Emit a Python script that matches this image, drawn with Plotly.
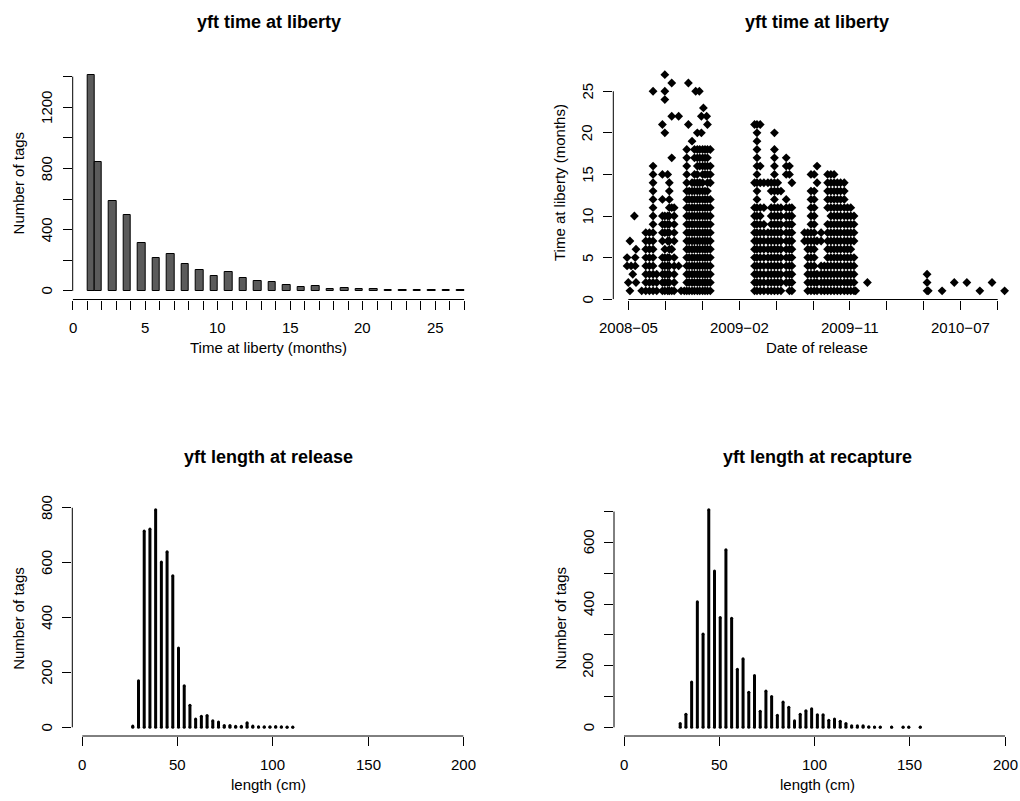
import plotly.graph_objects as go
from datetime import datetime, timedelta

# ---------------- data ----------------
# Panel 1: histogram of time at liberty (months)
liberty_bin_left = [1.0, 1.5, 2.5, 3.5, 4.5, 5.5, 6.5, 7.5, 8.5, 9.5, 10.5, 11.5, 12.5, 13.5,
                    14.5, 15.5, 16.5, 17.5, 18.5, 19.5, 20.5, 21.5, 22.5, 23.5, 24.5, 25.5, 26.5]
liberty_bin_right = [1.5, 2.0, 3.0, 4.0, 5.0, 6.0, 7.0, 8.0, 9.0, 10.0, 11.0, 12.0, 13.0, 14.0,
                     15.0, 16.0, 17.0, 18.0, 19.0, 20.0, 21.0, 22.0, 23.0, 24.0, 25.0, 26.0, 27.0]
liberty_counts = [1413, 839, 585, 493, 311, 217, 243, 178, 137, 98, 126, 85, 67, 59,
                  41, 24, 30, 13, 17, 11, 9, 8, 4, 3, 8, 4, 3]

# Panel 2: release date vs time at liberty (one entry per release date)
release_dates = [
    "2008-04-28", "2008-05-01", "2008-05-05", "2008-05-08", "2008-05-12", "2008-05-16",
    "2008-05-18", "2008-05-20",
    "2008-06-03", "2008-06-13", "2008-06-22", "2008-07-01", "2008-07-10", "2008-07-24",
    "2008-07-30", "2008-08-06", "2008-08-10", "2008-08-16", "2008-08-22", "2008-09-02",
    "2008-09-08",
    "2008-09-16", "2008-09-22", "2008-09-26", "2008-09-28", "2008-10-05", "2008-10-11",
    "2008-10-14", "2008-10-18", "2008-10-23", "2008-10-24", "2008-10-28", "2008-10-31",
    "2008-11-02", "2008-11-06", "2008-11-10", "2008-11-12", "2008-11-19",
    "2009-03-08", "2009-03-14", "2009-03-22", "2009-03-31", "2009-04-10", "2009-04-18",
    "2009-04-26", "2009-05-04", "2009-05-12", "2009-05-25", "2009-06-02", "2009-06-08",
    "2009-07-09", "2009-07-17", "2009-07-25", "2009-08-02", "2009-08-09", "2009-08-19",
    "2009-08-27", "2009-09-04", "2009-09-12", "2009-09-20", "2009-09-28", "2009-10-06",
    "2009-10-15", "2009-10-23", "2009-10-31", "2009-11-08", "2009-11-12", "2009-12-11",
    "2010-05-07", "2010-05-10", "2010-06-13", "2010-07-13", "2010-08-13", "2010-09-14",
    "2010-10-14", "2010-11-14",
]
months_at_liberty = [
    [4, 5], [2], [1, 7], [4], [3], [10], [4, 5], [2, 6],
    [1],
    [1, 2, 3, 4, 5, 6, 7, 8],
    [1, 2, 3, 4, 5, 6, 7, 8],
    [1, 2, 3, 4, 5, 6, 7, 8, 9, 10, 11, 12, 13, 14, 15, 16, 25],
    [1, 2, 3],
    [1, 2, 3, 4, 5, 7, 8, 9, 10, 12, 15, 21],
    [1, 2, 3, 4, 5, 6, 8, 9, 10, 20, 24, 25, 27],
    [1, 2, 3, 4, 5, 7, 8, 9, 10, 15],
    [1, 2, 3, 4, 5, 6, 7, 8, 9, 10, 11, 12, 13, 14],
    [1, 6, 11, 17, 22, 26],
    [1, 2, 3, 4, 5, 7, 8, 9, 10, 11],
    [4, 22],
    [1],
    [1],
    [1, 2, 3, 4, 5, 6, 7, 8, 9, 10, 11, 12, 13, 14, 15, 16, 17, 18],
    [21, 26],
    [1, 2, 3, 4, 5, 6, 7, 8, 9, 10, 11, 12, 13],
    [1, 2, 3, 4, 5, 6, 7, 8, 9, 10, 11, 12, 13, 14, 19],
    [1, 2, 3, 4, 5, 6, 7, 8, 9, 10, 11, 12, 13, 14, 15, 17, 18],
    [25],
    [1, 2, 3, 4, 5, 6, 7, 8, 9, 10, 11, 12, 13, 14, 15, 16, 17, 18, 20],
    [25],
    [1, 2, 3, 4, 5, 6, 7, 8, 9, 10, 11, 12, 13, 14, 16, 17, 18],
    [20, 22],
    [1, 2, 3, 4, 5, 6, 7, 8, 9, 10, 11, 12, 13, 14, 15, 16, 17, 18],
    [23],
    [1, 2, 3, 4, 5, 6, 7, 8, 9, 10, 11, 12, 13, 15, 16, 17, 18],
    [22],
    [1, 2, 3, 4, 5, 6, 7, 8, 9, 10, 11, 12, 13, 14, 15, 16, 17, 18, 21],
    [1, 2, 3, 4, 5, 6, 7, 8, 9, 10, 11, 12, 14, 15, 16, 18],
    [1, 2, 3, 4, 5, 6, 7, 8, 9, 10, 11, 14, 21],
    [1, 2, 3, 4, 5, 6, 7, 8, 9, 10, 11, 12, 13, 14, 15, 16, 17, 18, 19, 20, 21],
    [1, 2, 3, 4, 5, 6, 7, 8, 9, 10, 11, 14, 16, 21],
    [1, 2, 3, 4, 5, 6, 7, 8, 9, 11, 14],
    [1, 2, 3, 4, 5, 6, 7, 8, 14],
    [1, 2, 3, 4, 5, 6, 7, 8, 9, 10, 11, 13, 14],
    [1, 2, 3, 4, 5, 6, 7, 8, 9, 10, 11, 12, 13, 14, 15, 16, 17, 18, 20],
    [1, 2, 3, 4, 5, 6, 7, 8, 9, 10, 11, 13, 14],
    [1, 2, 3, 4, 5, 6, 7, 8, 9, 10, 11, 13],
    [2, 3, 4, 5, 6, 7, 8, 9, 10, 11, 12, 15, 16, 17],
    [1, 2, 3, 4, 5, 6, 7, 8, 9, 10, 11, 15, 16],
    [1, 2, 3, 4, 5, 6, 7, 8, 9, 10, 11, 14],
    [7, 8],
    [1, 2, 3, 4, 5, 6, 7, 8],
    [1, 2, 3, 4, 5, 6, 7, 8, 9, 10, 11, 12, 13, 15],
    [1, 2, 3, 4, 5, 6, 7, 8, 9, 10, 11, 12, 13, 15],
    [1, 2, 3, 7, 14, 16],
    [1, 2, 3, 4, 7, 8],
    [1, 2, 3, 4],
    [1, 2, 3, 4, 5, 6, 7, 8, 9, 11, 12, 13, 14, 15],
    [1, 2, 3, 4, 5, 6, 7, 8, 9, 10, 11, 12, 13, 14, 15],
    [1, 2, 3, 4, 5, 6, 7, 8, 9, 10, 11, 12, 13, 14, 15],
    [1, 2, 3, 4, 5, 6, 7, 8, 9, 10, 11, 12, 13, 14],
    [1, 2, 3, 4, 5, 6, 7, 8, 9, 10, 11, 12, 13, 14],
    [1, 2, 3, 4, 5, 6, 7, 8, 9, 10, 11, 12, 13, 14],
    [1, 2, 3, 4, 5, 6, 7, 8, 9, 10, 11],
    [1, 2, 3, 4, 5, 6, 7, 8, 9, 10, 11],
    [1, 2, 3, 4, 5, 7, 8, 9, 10],
    [1],
    [2],
    [1, 2, 3], [1], [1], [2], [2], [1], [2], [1],
]
date_ticks = ["2008-05-01", "2008-07-31", "2008-10-30", "2009-01-29", "2009-04-30", "2009-07-30",
              "2009-10-29", "2010-01-28", "2010-04-29", "2010-07-29", "2010-10-28"]
date_tick_labels = ["2008\u221205", "", "", "2009\u221202", "", "", "2009\u221211", "", "",
                    "2010\u221207", ""]

# Panel 3: length at release (cm) and number of tags
release_len_cm = [26.5, 29.5, 32.5, 35.5, 38.5, 41.5, 44.5, 47.5, 50.5, 53.5, 56.5, 59.5,
                  62.5, 65.5, 68.5, 71.5, 74.5, 77.5, 80.5, 83.5, 86.5, 89.5, 92.5, 95.5,
                  98.5, 101.5, 104.5, 107.5, 110.5]
release_len_counts = [5, 170, 715, 723, 793, 602, 640, 552, 289, 151, 80, 30,
                      40, 43, 24, 19, 7, 7, 4, 4, 17, 5, 2, 2, 2, 3, 2, 1, 1]

# Panel 4: length at recapture (cm) and number of tags
recap_len_cm = [29.5, 32.5, 35.5, 38.5, 41.5, 44.5, 47.5, 50.5, 53.5, 56.5, 59.5, 62.5,
                65.5, 68.5, 71.5, 74.5, 77.5, 80.5, 83.5, 86.5, 89.5, 92.5, 95.5, 98.5,
                101.5, 104.5, 107.5, 110.5, 113.5, 116.5, 119.5, 122.5, 125.5, 128.5,
                131.5, 134.5, 140.5, 146.5, 149.5, 155.5]
recap_len_counts = [12, 42, 147, 407, 303, 706, 507, 356, 576, 354, 188, 222,
                    114, 168, 52, 118, 100, 39, 82, 65, 21, 42, 54, 60,
                    41, 41, 23, 27, 20, 12, 5, 5, 5, 2,
                    1, 1, 1, 1, 1, 1]

# ---------------- layout helpers ----------------
W, H = 1020, 801
FONT = "Liberation Sans, Arial, Helvetica, sans-serif"
TXT = 15
TITLE = 18
TICKLEN = 9


def fx(px):
    return px / W


def fy(px):
    return 1 - px / H


# panel pixel boxes: left, right, top, bottom
TL = (72.7, 464.3, 66.0, 299.5)
TR = (613.3, 1020.0, 66.0, 299.5)
BL = (72.3, 470.0, 501.0, 736.0)
BR = (614.0, 1020.0, 501.0, 736.0)

fig = go.Figure()

# Panel 1 bars
centers = [(a + b) / 2 for a, b in zip(liberty_bin_left, liberty_bin_right)]
widths = [b - a for a, b in zip(liberty_bin_left, liberty_bin_right)]
fig.add_trace(go.Bar(x=centers, y=liberty_counts, width=widths, xaxis="x", yaxis="y",
                     marker=dict(color="#5b5b5b", line=dict(color="black", width=1)),
                     showlegend=False, hoverinfo="skip"))

# Panel 2 scatter
px_dates, py_months = [], []
for d, ms in zip(release_dates, months_at_liberty):
    for m in ms:
        px_dates.append(d)
        py_months.append(m)
fig.add_trace(go.Scatter(x=px_dates, y=py_months, mode="markers", xaxis="x2", yaxis="y2",
                         marker=dict(symbol="diamond", size=6.8, color="black",
                                     line=dict(width=0)),
                         showlegend=False, hoverinfo="skip"))


def spikes(xs, ys, xa, ya):
    lx, ly = [], []
    for x, y in zip(xs, ys):
        lx += [x, x, None]
        ly += [0, y, None]
    fig.add_trace(go.Scatter(x=lx, y=ly, mode="lines", xaxis=xa, yaxis=ya,
                             line=dict(color="black", width=3),
                             showlegend=False, hoverinfo="skip"))
    fig.add_trace(go.Scatter(x=list(xs) + list(xs), y=[0] * len(xs) + list(ys),
                             mode="markers", xaxis=xa, yaxis=ya,
                             marker=dict(symbol="circle", size=3, color="black",
                                         line=dict(width=0)),
                             showlegend=False, hoverinfo="skip"))


spikes(release_len_cm, release_len_counts, "x3", "y3")
spikes(recap_len_cm, recap_len_counts, "x4", "y4")

# ranges
base = datetime(2008, 5, 1)
px_per_day = (997.7 - 628.3) / 910.0
tr_x0 = base + timedelta(days=(TR[0] - 628.3) / px_per_day)
tr_x1 = base + timedelta(days=(TR[1] - 628.3) / px_per_day)


def yr(vals):
    lo, hi = min(0, min(vals)), max(vals)
    return [lo - 0.04 * (hi - lo), hi + 0.04 * (hi - lo)]


def yr_scatter(vals):
    lo, hi = min(vals), max(vals)
    return [lo - 0.04 * (hi - lo), hi + 0.04 * (hi - lo)]


cm_scale = 1.905
ranges = {
    "x": [0, 27],
    "y": yr(liberty_counts),
    "x2": [tr_x0.isoformat(), tr_x1.isoformat()],
    "y2": yr_scatter(py_months),
    "x3": [(BL[0] - 82.3) / cm_scale, (BL[1] - 82.3) / cm_scale],
    "y3": yr(release_len_counts),
    "x4": [(BR[0] - 624.0) / cm_scale, (BR[1] - 624.0) / cm_scale],
    "y4": yr(recap_len_counts),
}

x_ticks = {
    "x": (list(range(0, 28)), ["0" if v == 0 else (str(v) if v % 5 == 0 else "") for v in range(0, 28)]),
    "x2": (date_ticks, date_tick_labels),
    "x3": ([0, 50, 100, 150, 200], ["0", "50", "100", "150", "200"]),
    "x4": ([0, 50, 100, 150, 200], ["0", "50", "100", "150", "200"]),
}
y_ticks = {
    "y": ([0, 200, 400, 600, 800, 1000, 1200, 1400], ["0", "", "400", "", "800", "", "1200", ""]),
    "y2": ([0, 5, 10, 15, 20, 25], ["0", "5", "10", "15", "20", "25"]),
    "y3": ([0, 200, 400, 600, 800], ["0", "200", "400", "600", "800"]),
    "y4": ([0, 100, 200, 300, 400, 500, 600, 700], ["0", "", "200", "", "400", "", "600", ""]),
}

panels = [("x", "y", TL, "yft time at liberty", "Time at liberty (months)", "Number of tags"),
          ("x2", "y2", TR, "yft time at liberty", "Date of release", "Time at liberty (months)"),
          ("x3", "y3", BL, "yft length at release", "length (cm)", "Number of tags"),
          ("x4", "y4", BR, "yft length at recapture", "length (cm)", "Number of tags")]

axis_common = dict(showgrid=False, zeroline=False, showline=False, ticks="outside",
                   ticklen=TICKLEN, tickwidth=1, tickcolor="black", showticklabels=False)

annotations = []
shapes = []
layout_axes = {}
for xa, ya, box, title, xlab, ylab in panels:
    left, right, top, bottom = box
    xkey = "xaxis" if xa == "x" else "xaxis" + xa[1:]
    ykey = "yaxis" if ya == "y" else "yaxis" + ya[1:]
    xt_vals, xt_text = x_ticks[xa]
    yt_vals, yt_text = y_ticks[ya]
    layout_axes[xkey] = dict(axis_common, domain=[fx(left), fx(right)], range=ranges[xa],
                             anchor=ya, tickmode="array", tickvals=xt_vals,
                             type="date" if xa == "x2" else "linear")
    layout_axes[ykey] = dict(axis_common, domain=[fy(bottom), fy(top)], range=ranges[ya],
                             anchor=xa, tickmode="array", tickvals=yt_vals)
    # R-style axis lines spanning first to last tick
    shapes.append(dict(type="line", xref=xa, yref=ya + " domain", x0=xt_vals[0], x1=xt_vals[-1],
                       y0=0, y1=0, line=dict(color="black", width=1)))
    shapes.append(dict(type="line", xref=xa + " domain", yref=ya, x0=0, x1=0,
                       y0=yt_vals[0], y1=yt_vals[-1], line=dict(color="black", width=1)))
    # tick labels
    for v, t in zip(xt_vals, xt_text):
        if t:
            annotations.append(dict(x=v, xref=xa, y=fy(bottom + 28), yref="paper", text=t,
                                    showarrow=False, xanchor="center", yanchor="middle",
                                    font=dict(family=FONT, size=TXT, color="black")))
    for v, t in zip(yt_vals, yt_text):
        if t:
            annotations.append(dict(x=fx(left - 26), xref="paper", y=v, yref=ya, text=t,
                                    textangle=-90, showarrow=False, xanchor="center",
                                    yanchor="middle",
                                    font=dict(family=FONT, size=TXT, color="black")))
    cx = (left + (right if xa in ("x", "x2", "x4") else 463.7)) / 2
    # axis titles
    annotations.append(dict(x=fx(cx), xref="paper", y=fy(bottom + 48), yref="paper", text=xlab,
                            showarrow=False, xanchor="center", yanchor="middle",
                            font=dict(family=FONT, size=TXT, color="black")))
    annotations.append(dict(x=fx(left - 54), xref="paper", y=fy((top + bottom) / 2), yref="paper",
                            text=ylab, textangle=-90, showarrow=False, xanchor="center",
                            yanchor="middle", font=dict(family=FONT, size=TXT, color="black")))
    # main title
    annotations.append(dict(x=fx(cx), xref="paper", y=fy(top - 44), yref="paper",
                            text="<b>" + title + "</b>", showarrow=False, xanchor="center",
                            yanchor="middle", font=dict(family=FONT, size=TITLE, color="black")))

fig.update_layout(width=W, height=H, margin=dict(l=0, r=0, t=0, b=0),
                  paper_bgcolor="white", plot_bgcolor="white", bargap=0,
                  font=dict(family=FONT, size=TXT, color="black"),
                  annotations=annotations, shapes=shapes, **layout_axes)

fig.write_html("out.html")
